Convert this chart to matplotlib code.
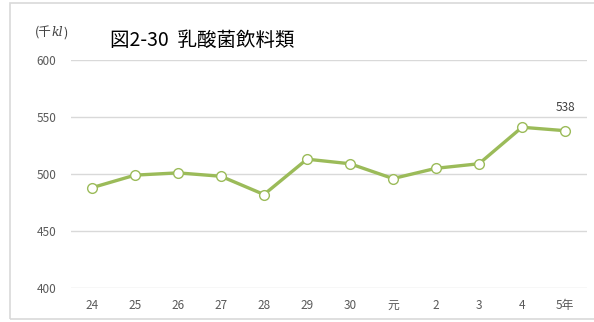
import matplotlib.pyplot as plt
from matplotlib.patches import Rectangle

plt.rcParams['font.family'] = ['Noto Sans CJK JP', 'DejaVu Sans']

years = ['24', '25', '26', '27', '28', '29', '30', '元', '2', '3', '4', '5年']
volume = [488, 499, 501, 498, 482, 513, 509, 496, 505, 509, 541, 538]
yticks = [400, 450, 500, 550, 600]

fig = plt.figure(figsize=(5.94, 3.22), dpi=100)
fig.patches.append(Rectangle((10 / 594, 3 / 322), 600 / 594, 316 / 322,
                             transform=fig.transFigure, fill=False,
                             edgecolor='#d9d9d9', linewidth=1.2))

ax = fig.add_axes([70.5 / 594, 34 / 322, 516 / 594, 228 / 322])
x = range(len(years))
ax.plot(x, volume, color='#9bbb59', linewidth=2.4, marker='o',
        markersize=7, markerfacecolor='white', markeredgecolor='#9bbb59',
        markeredgewidth=1.0, zorder=3)

ax.annotate(str(volume[-1]), (x[-1], volume[-1]), xytext=(0, 12),
            textcoords='offset points', ha='center', va='bottom',
            fontsize=8.5, color='#404040')

ax.set_xlim(-0.5, len(years) - 0.5)
ax.set_ylim(400, 600)
ax.set_yticks(yticks)
ax.set_xticks(list(x))
ax.set_xticklabels(years)
ax.grid(axis='y', color='#d9d9d9', linewidth=1)
ax.set_axisbelow(True)
for s in ax.spines.values():
    s.set_visible(False)
ax.tick_params(length=0, labelsize=8.5, labelcolor='#595959')
ax.tick_params(axis='y', pad=10)
ax.tick_params(axis='x', pad=8)

fig.text(110 / 594, 1 - 40 / 322, '図2-30  乳酸菌飲料類', fontsize=14,
         color='#000000', va='center', ha='left')

# unit label: upright parts in the CJK font, "kl" in italic serif
renderer = fig.canvas.get_renderer()
xpos = 35
for part, kw in [('(千', {}),
                 ('kl', {'style': 'italic', 'family': ['DejaVu Serif']}),
                 (')', {})]:
    t = fig.text(xpos / 594, 1 - 33 / 322, part, fontsize=9, color='#404040',
                 va='center', ha='left', **kw)
    xpos += t.get_window_extent(renderer).width

fig.savefig('out.png', dpi=100)
